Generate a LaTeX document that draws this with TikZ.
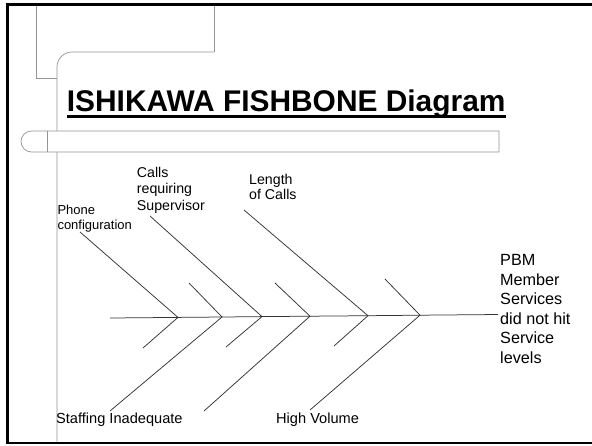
\documentclass[tikz,border=0pt]{standalone}
\usepackage{fontspec}
\setmainfont{Liberation Sans}
\begin{document}
\begin{tikzpicture}[x=1pt,y=-1pt,
  tmpl/.style={draw=black!42, line width=0.7pt},
  bone/.style={draw=black!80, line width=0.75pt},
  lbl/.style={inner sep=0pt, align=left, text=black},
]
\useasboundingbox (0,0) rectangle (592,445);
% slide template lines
\draw[tmpl] (36,4) -- (36,78) -- (57,78);
\draw[tmpl] (214,4) -- (214,52);
\draw[tmpl, rounded corners=15pt] (214,52) -- (57,52) -- (57,443);
\draw[tmpl, fill=white] (499,152) -- (31.5,152) arc[start angle=90, end angle=270, radius=10.5] -- (499,131) -- cycle;
\draw[tmpl] (47,131) -- (47,152);
% frame
\draw[line width=2.5pt] (7.5,4.5) -- (592,4.5);
\draw[line width=3pt] (7.5,3.3) -- (7.5,443.7);
\draw[line width=1.5pt] (6,443.2) -- (592,443.2);
% title
\node[anchor=base west, inner sep=0pt, font=\bfseries\fontsize{29.9}{34}\selectfont] (title) at (66.7,111) {ISHIKAWA FISHBONE Diagram};
\draw[line width=3.3pt] ([yshift=-5.7pt]title.base west) -- ([yshift=-5.7pt]title.base east);
% spine coordinates
\coordinate (tail) at (110,318);
\coordinate (v1) at (178,317.4);
\coordinate (v2) at (222,317.0);
\coordinate (v3) at (262,316.6);
\coordinate (v4) at (310,316.2);
\coordinate (v5) at (368,315.7);
\coordinate (v6) at (420,315.2);
\coordinate (head) at (498,314.5);
% bone ends
\coordinate (p1) at (80,232);
\coordinate (q1) at (143,348);
\coordinate (p2) at (189,283);
\coordinate (q2) at (110,411);
\coordinate (p3) at (150,216);
\coordinate (q3) at (226,347);
\coordinate (p4) at (275,283);
\coordinate (q4) at (204,411);
\coordinate (p5) at (244,210);
\coordinate (q5) at (334,346);
\coordinate (p6) at (385,279);
\coordinate (q6) at (310,410);
% spine
\draw[bone] (tail) -- (v1) -- (v2) -- (v3) -- (v4) -- (v5) -- (v6) -- (head);
% bones
\foreach \i in {1,...,6} {
  \draw[bone] (p\i) -- (v\i) -- (q\i);
}
% labels
\node[lbl, anchor=north west, font=\fontsize{13}{15}\selectfont] (phone) at (57.3,205) {Phone\\configuration};
\node[lbl, anchor=north west, font=\fontsize{14.2}{16.5}\selectfont] (calls) at (136.7,167) {Calls\\requiring\\Supervisor};
\node[lbl, anchor=north west, font=\fontsize{14.2}{15.5}\selectfont] (length) at (249,174) {Length\\of Calls};
\node[lbl, anchor=north west, font=\fontsize{16.2}{19.5}\selectfont] (pbm) at (500,254.5) {PBM\\Member\\Services\\did not hit\\Service\\levels};
\node[lbl, anchor=base west, font=\fontsize{14.6}{17}\selectfont] (staff) at (56,423.3) {Staffing Inadequate};
\node[lbl, anchor=base west, font=\fontsize{14.6}{17}\selectfont] (high) at (276,423.3) {High Volume};
\end{tikzpicture}
\end{document}
